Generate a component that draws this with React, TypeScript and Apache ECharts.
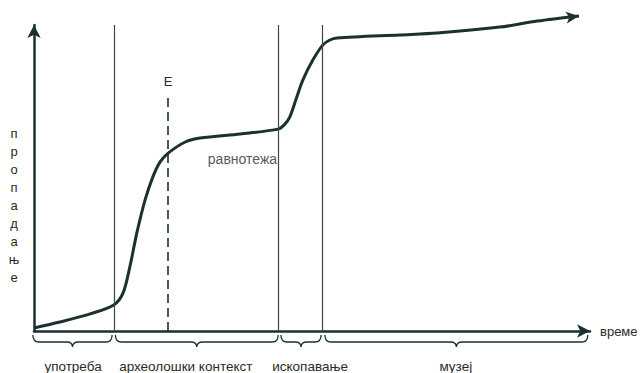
import React, { useEffect, useRef } from "react";
import * as echarts from "echarts";

// Decay curve (time, decay) in arbitrary units
const curveTime = [0, 4.7, 10.2, 14.5, 16.2, 17.5, 18.7, 20.2, 21.6, 22.9, 24.4, 27.5, 30.2, 37.5, 44.4, 45.5, 46.5, 47.6, 48.9, 50.7, 52.5, 53.8, 55.1, 66.5, 73.3, 84.7, 91.5, 99.1];
const curveDecay = [1, 3, 5.7, 8.7, 12.7, 22, 32.7, 43.7, 51.3, 56.3, 59.3, 63, 64.3, 65.7, 67.3, 68.7, 71.3, 77, 83.7, 90.3, 95.3, 97, 97.7, 98.7, 99.3, 101.3, 103.3, 105];

// Phase boundaries (vertical lines)
const boundaries = [14.55, 44.5, 52.5];
// Event E (dashed line)
const eventTime = 24.4;
const eventTop = 78.7;
const eventLabel = "E";

// Phases (braces under time axis)
const phaseNames = ["употреба", "археолошки контекст", "ископавање", "музеј"];
const phaseStart = [-0.2, 14.8, 44.9, 52.9];
const phaseEnd = [14.2, 44.4, 52.2, 100.7];
const phaseLabelX = [7.1, 27.6, 50.2, 76.7];

const equilibriumLabel = "равнотежа";
const equilibriumPos = [44.2, 57.3];

const yName = "пропадање";
const xName = "време";

const X_MAX = 101.1;
const Y_MAX = 102;

const INK = "#1b3030";
const TEXT = "#2a2a2a";
const FONT = "Liberation Sans, Arial, sans-serif";

export default function App() {
  const ref = useRef<HTMLDivElement>(null);
  useEffect(() => {
    document.body.style.margin = "0";
    const chart = echarts.init(ref.current!, null, { renderer: "svg" });
    const curveData: any[] = curveTime.map((t, i) => [t, curveDecay[i]]);
    const last = curveData.length - 1;
    curveData[last] = {
      value: curveData[last],
      symbol: "arrow",
      symbolSize: [9, 13],
      symbolRotate: -83,
      itemStyle: { color: INK },
    };
    chart.setOption({
      animation: false,
      grid: { left: 34, top: 25, width: 556, height: 306 },
      xAxis: {
        type: "value",
        min: 0,
        max: X_MAX,
        name: xName,
        nameLocation: "end",
        nameGap: 10,
        nameTextStyle: { fontFamily: FONT, fontSize: 13, color: TEXT },
        axisLine: {
          show: true,
          symbol: ["none", "arrow"],
          symbolSize: [10, 13],
          lineStyle: { color: INK, width: 2.5 },
        },
        axisTick: { show: false },
        axisLabel: { show: false },
        splitLine: { show: false },
      },
      yAxis: {
        type: "value",
        min: 0,
        max: Y_MAX,
        axisLine: {
          show: true,
          symbol: ["none", "arrow"],
          symbolSize: [10, 13],
          lineStyle: { color: INK, width: 2.5 },
        },
        axisTick: { show: false },
        axisLabel: { show: false },
        splitLine: { show: false },
      },
      graphic: [
        {
          type: "text",
          x: 14,
          y: 124,
          style: {
            text: yName.split("").join("\n"),
            fontFamily: FONT,
            fontSize: 13,
            lineHeight: 18,
            fill: TEXT,
            align: "center",
            verticalAlign: "top",
          },
        },
      ],
      series: [
        {
          type: "line",
          data: curveData,
          smooth: 0.3,
          symbol: "none",
          showSymbol: true,
          clip: false,
          lineStyle: { color: INK, width: 3 },
          z: 3,
          markLine: {
            silent: true,
            symbol: ["none", "none"],
            animation: false,
            data: [
              ...boundaries.map((b) => [
                { coord: [b, 0], lineStyle: { color: "#3a4848", width: 1.2, type: "solid" }, label: { show: false } },
                { coord: [b, Y_MAX] },
              ]),
              [
                {
                  coord: [eventTime, 0],
                  lineStyle: { color: INK, width: 1.6, type: [9, 5] },
                  label: {
                    show: true,
                    position: "end",
                    formatter: eventLabel,
                    distance: 7,
                    fontFamily: FONT,
                    fontSize: 13,
                    color: TEXT,
                  },
                },
                { coord: [eventTime, eventTop] },
              ],
            ],
          },
        },
        {
          type: "scatter",
          data: [{ value: equilibriumPos, name: equilibriumLabel }],
          symbolSize: 0,
          silent: true,
          clip: false,
          label: {
            show: true,
            position: "left",
            distance: 0,
            formatter: "{b}",
            fontFamily: FONT,
            fontSize: 14,
            color: TEXT,
          },
        },
        {
          type: "custom",
          clip: false,
          silent: true,
          data: phaseStart.map((s, i) => [s, phaseEnd[i], phaseLabelX[i]]),
          renderItem: (params: any, api: any) => {
            const i = params.dataIndex;
            const p1 = api.coord([api.value(0), 0]);
            const p2 = api.coord([api.value(1), 0]);
            const pl = api.coord([api.value(2), 0]);
            const x1 = p1[0];
            const x2 = p2[0];
            const xm = (x1 + x2) / 2;
            const y0 = p1[1] + 4;
            const yh = y0 + 7;
            const yt = y0 + 12;
            const r = Math.min(6, (x2 - x1) / 4);
            const d =
              `M${x1} ${y0} Q${x1} ${yh} ${x1 + r} ${yh} L${xm - r} ${yh} ` +
              `Q${xm} ${yh} ${xm} ${yt} Q${xm} ${yh} ${xm + r} ${yh} ` +
              `L${x2 - r} ${yh} Q${x2} ${yh} ${x2} ${y0}`;
            return {
              type: "group",
              children: [
                {
                  type: "path",
                  shape: { pathData: d },
                  style: { stroke: INK, lineWidth: 1.3, fill: "none" },
                },
                {
                  type: "text",
                  style: {
                    text: phaseNames[i],
                    x: pl[0],
                    y: p1[1] + 35,
                    align: "center",
                    verticalAlign: "middle",
                    fontFamily: FONT,
                    fontSize: 13.5,
                    fill: TEXT,
                  },
                },
              ],
            };
          },
        },
      ],
    });
    return () => chart.dispose();
  }, []);
  return (
    <div
      ref={ref}
      style={{ position: "fixed", left: 0, top: 0, width: 641, height: 373, background: "#fff" }}
    />
  );
}
